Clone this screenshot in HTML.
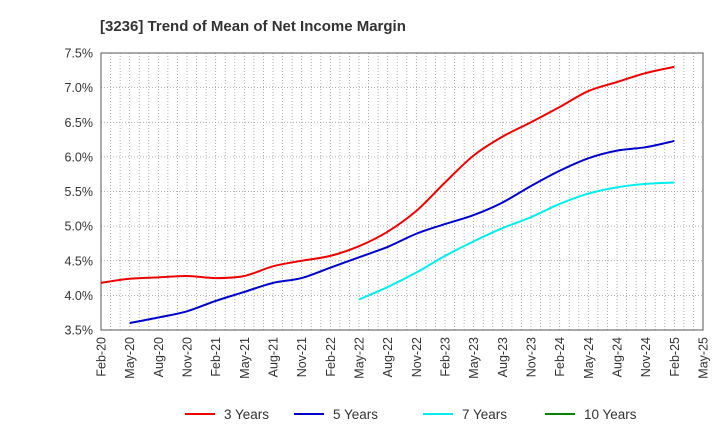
<!DOCTYPE html>
<html><head><meta charset="utf-8"><style>
body{margin:0;background:#fff;font-family:"Liberation Sans",sans-serif}
svg text{font-family:"Liberation Sans",sans-serif;fill:#333}
</style></head><body>
<svg id="c" width="720" height="440">
<text x="100" y="31" font-size="15" font-weight="bold">[3236]  Trend of Mean of Net Income Margin</text>
</svg>
<script>
const xLabels=["Feb-20","May-20","Aug-20","Nov-20","Feb-21","May-21","Aug-21","Nov-21","Feb-22","May-22","Aug-22","Nov-22","Feb-23","May-23","Aug-23","Nov-23","Feb-24","May-24","Aug-24","Nov-24","Feb-25","May-25"];
const yTicks=[3.5,4.0,4.5,5.0,5.5,6.0,6.5,7.0,7.5];
const s3=[4.18,4.24,4.26,4.28,4.25,4.28,4.42,4.50,4.57,4.71,4.92,5.22,5.63,6.02,6.29,6.50,6.72,6.95,7.08,7.21,7.30];
const s5=[null,3.60,3.68,3.77,3.92,4.05,4.18,4.25,4.40,4.55,4.70,4.89,5.03,5.16,5.34,5.58,5.80,5.98,6.09,6.14,6.23];
const s7=[null,null,null,null,null,null,null,null,null,3.94,4.12,4.33,4.57,4.78,4.97,5.13,5.32,5.47,5.56,5.61,5.63];
const s10=[];
const L=101,R=703,T=53,B=330;
const X=i=>L+i*(R-L)/(xLabels.length-1);
const Y=v=>B-(v-3.5)/(4.0)*(B-T);
const svg=document.getElementById('c');const NS="http://www.w3.org/2000/svg";
function mk(t,a,p){const e=document.createElementNS(NS,t);for(const k in a)e.setAttribute(k,a[k]);(p||svg).appendChild(e);return e;}
// grid
for(let m=0;m<=63;m++){const x=L+m*(R-L)/63;
const g=mk('line',{x1:x,x2:x,y1:T,y2:B,stroke:'#999','stroke-width':0.8,'stroke-dasharray':'1,2'});

}
yTicks.forEach(v=>{const y=Y(v);
const g=mk('line',{x1:L,x2:R,y1:y,y2:y,stroke:'#999','stroke-width':0.8,'stroke-dasharray':'1,2'});


const t=mk('text',{x:L-8,y:y+4.5,'font-size':12.5,'text-anchor':'end'});t.textContent=v.toFixed(1)+'%';

});
const fr=mk('rect',{x:L,y:T,width:R-L,height:B-T,fill:'none',stroke:'#555','stroke-width':1});


xLabels.forEach((l,i)=>{const x=X(i);
const t=mk('text',{x:0,y:0,'font-size':12.5,'text-anchor':'end',transform:`translate(${x+4.5},${B+7}) rotate(-90)`});t.textContent=l;

});
function path(arr,color,name){const pts=[];arr.forEach((v,i)=>{if(v!=null)pts.push([X(i),Y(v)]);});if(pts.length<2)return;
let d=`M${pts[0][0]},${pts[0][1]}`;
for(let i=0;i<pts.length-1;i++){const p0=pts[i-1]||pts[i],p1=pts[i],p2=pts[i+1],p3=pts[i+2]||p2;
d+=` C${p1[0]+(p2[0]-p0[0])/6},${p1[1]+(p2[1]-p0[1])/6} ${p2[0]-(p3[0]-p1[0])/6},${p2[1]-(p3[1]-p1[1])/6} ${p2[0]},${p2[1]}`;}
const e=mk('path',{d,fill:'none',stroke:color,'stroke-width':2});

}
path(s3,'#e00','series-3-years');path(s5,'#00c','series-5-years');path(s7,'#0ee','series-7-years');path(s10,'#080','series-10-years');
const leg=[["3 Years","#e00",185],["5 Years","#00c",294],["7 Years","#0ee",423],["10 Years","#080",545]];
leg.forEach(([n,c,x])=>{const g=mk('g',{});


mk('line',{x1:x,x2:x+30,y1:414,y2:414,stroke:c,'stroke-width':2},g);
const t=mk('text',{x:x+39,y:419,'font-size':13.5},g);t.textContent=n;});
</script>
</body></html>
